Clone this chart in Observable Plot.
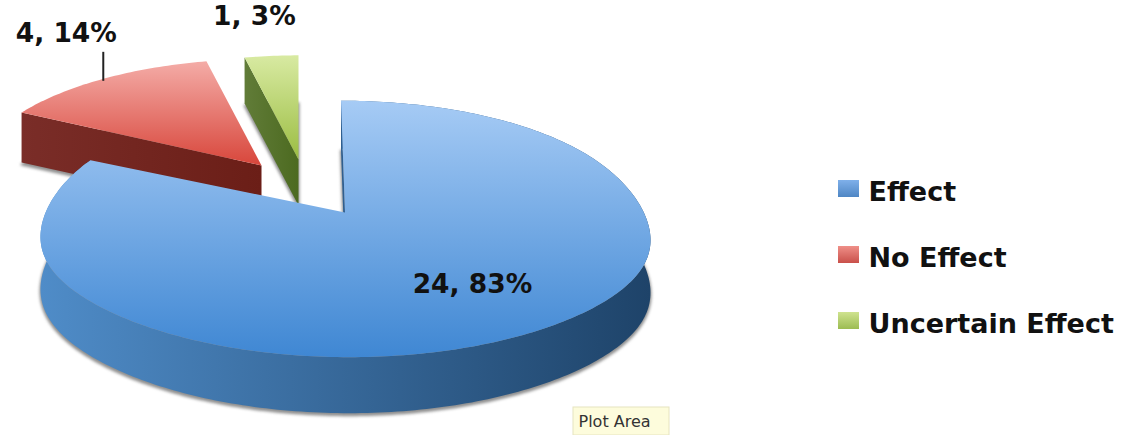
<!DOCTYPE html>
<html>
<head>
<meta charset="utf-8">
<script src="https://cdn.jsdelivr.net/npm/d3@7"></script>
<script src="https://cdn.jsdelivr.net/npm/@observablehq/plot@0.6"></script>
<style>
  html, body { margin: 0; padding: 0; background: #fff; }
</style>
</head>
<body>
<div id="chart"></div>
<script>
// Survey outcome counts and their printed shares
const categories = ["Effect", "No Effect", "Uncertain Effect"];
const counts = [24, 4, 1];
const percents = [83, 14, 3];

// Exploded-slice placement of the tilted pie
const explodeX = [344.5, 261, 298];
const explodeY = [212, 165, 159];
const sliceScale = [1, 0.95, 0.93];
const sliceLean = [4, 0, 0];
const sliceDepth = [52, 50, 46];
const sliceSag = [10, 0, 0];

// Label placement: radial fraction of each slice plus a nudge
const labelRadius = [0.7, 1, 1];
const labelDx = [7, -37, -17];
const labelDy = [-12, -45, -39];
const leaderLength = 27;

// Perspective of the pie disc
const radiusX = 302.6;
const radiusY = 126;
const tilt = -0.125;

// Fill ramps: [start, end] of each face
const topRamps = [["#a6cbf5", "#3f87d3"], ["#f4aca7", "#d8463b"], ["#d8eaa2", "#9bbd42"]];
const sideRamps = [["#4f8cc8", "#1e4369"], ["#7a2d28", "#6b1e17"], ["#617c38", "#4c6a20"]];
const swatchRamps = [["#7fb0ea", "#4f86c4"], ["#ef8f88", "#c9504a"], ["#cfe38f", "#9cbc52"]];

// Project a point of the disc, given clock angle and radius fraction
function project(i, deg, r = 1, down = 0) {
  const a = deg * Math.PI / 180;
  const u = r * Math.sin(a), v = -r * Math.cos(a);
  const den = 1 + tilt * v;
  const s = sliceScale[i];
  const drop = down ? down + (i === 0 ? 4 * v : 0) : 0;
  // The disc's widest part sits a little below its centre
  const sag = sliceSag[i] * r * r * Math.exp(-(((v - 0.1) / 0.55) ** 2));
  return {
    x: explodeX[i] + s * radiusX * u / den + sliceLean[i] * v,
    y: explodeY[i] + s * radiusY * v / den + drop + sag
  };
}

const total = d3.sum(counts);
const edges = [0, ...d3.cumsum(counts).map(c => c / total * 360)];

function arcPoints(i, down = 0) {
  const from = edges[i], to = edges[i + 1];
  const n = Math.ceil(to - from);
  return d3.range(n + 1).map(k => project(i, from + (to - from) * k / n, 1, down));
}
const apex = (i, down = 0) => project(i, 0, 0, down);

const topFace = i => [apex(i), ...arcPoints(i)];
const bottomFace = i => [apex(i, sliceDepth[i]), ...arcPoints(i, sliceDepth[i])];
// Flat cut wall running from the centre out to a given clock angle
const wall = (i, deg) => {
  const d = sliceDepth[i];
  return [apex(i), project(i, deg), project(i, deg, 1, d), apex(i, d)];
};
const rimBand = i => [...arcPoints(i), ...arcPoints(i, sliceDepth[i]).reverse()];

// Vertical gradients for top faces, horizontal ones for side walls
function gradients() {
  const svg = d3.create("svg:defs");
  const add = (id, [a, b], horizontal) => {
    const g = svg.append("linearGradient").attr("id", id)
      .attr("x1", 0).attr("y1", 0)
      .attr("x2", horizontal ? 1 : 0).attr("y2", horizontal ? 0 : 1);
    g.append("stop").attr("offset", 0).attr("stop-color", a);
    g.append("stop").attr("offset", 1).attr("stop-color", b);
  };
  categories.forEach((_, i) => {
    add(`top${i}`, topRamps[i]);
    add(`side${i}`, sideRamps[i], true);
    add(`swatch${i}`, swatchRamps[i]);
  });
  return svg.node();
}

const poly = (points, fill, extra = {}) =>
  Plot.line(points, { x: "x", y: "y", fill, stroke: "none", curve: "linear-closed", ...extra });

// Soft drop shadow: the slice's base, nudged down and blurred
const shadow = (i) =>
  poly(bottomFace(i).map(p => ({ x: p.x, y: p.y + 2 })), "#8f8f8f", {
    stroke: "#8f8f8f",
    strokeWidth: 2,
    render(index, scales, values, dimensions, context, next) {
      const g = next(index, scales, values, dimensions, context);
      g.style.filter = "blur(1.5px)";
      return g;
    }
  });

// Slice labels, placed around each slice's mid-angle
const labelRows = categories.map((c, i) => {
  const mid = (edges[i] + edges[i + 1]) / 2;
  const p = project(i, mid, labelRadius[i]);
  return { text: `${counts[i]}, ${percents[i]}%`, x: p.x + labelDx[i], y: p.y + labelDy[i] };
});
const redMid = project(1, (edges[1] + edges[2]) / 2);

// Legend rows on the right
const legendRows = categories.map((name, i) => ({
  name, x1: 838, x2: 859, y1: 180 + i * 66, y2: 197 + i * 66, tx: 868, ty: 192 + i * 66
}));

const tooltip = [{ x1: 573, x2: 669, y1: 407, y2: 435, tx: 578, ty: 421, text: "Plot Area" }];

const font = "'DejaVu Sans', sans-serif";

const chart = Plot.plot({
  width: 1121,
  height: 435,
  margin: 0,
  x: { domain: [0, 1121], range: [0, 1121], axis: null },
  y: { domain: [0, 435], range: [0, 435], axis: null },
  style: { background: "#fff" },
  marks: [
    gradients,
    // Uncertain Effect
    shadow(2),
    poly(wall(2, edges[2]), "url(#side2)"),
    poly(topFace(2), "url(#top2)"),
    // No Effect
    shadow(1),
    poly(wall(1, edges[1]), "url(#side1)"),
    poly(topFace(1), "url(#top1)"),
    Plot.link([{ x: redMid.x, y1: redMid.y + 2, y2: redMid.y - leaderLength }], {
      x1: "x", x2: "x", y1: "y1", y2: "y2", stroke: "#222", strokeWidth: 2
    }),
    // Effect
    shadow(0),
    poly(rimBand(0), "url(#side0)"),
    poly(wall(0, 0), "#2f5f90"),
    poly(topFace(0), "url(#top0)"),
    // Slice labels
    Plot.text(labelRows, {
      x: "x", y: "y", text: "text", fill: "#111", fontWeight: 700,
      fontSize: 26.5, fontFamily: font, textAnchor: "middle", lineAnchor: "middle"
    }),
    // Legend
    ...categories.map((_, i) =>
      Plot.rect([legendRows[i]], { x1: "x1", x2: "x2", y1: "y1", y2: "y2", fill: `url(#swatch${i})` })
    ),
    Plot.text(legendRows, {
      x: "tx", y: "ty", text: "name", fill: "#111", fontWeight: 700,
      fontSize: 27, fontFamily: font, textAnchor: "start", lineAnchor: "middle"
    }),
    // Hover note
    Plot.rect(tooltip, { x1: "x1", x2: "x2", y1: "y1", y2: "y2", fill: "#fdfcdc", stroke: "#e6e4c0" }),
    Plot.text(tooltip, {
      x: "tx", y: "ty", text: "text", fill: "#333", fontSize: 16, fontFamily: font,
      textAnchor: "start", lineAnchor: "middle"
    })
  ]
});

document.getElementById("chart").append(chart);
</script>
</body>
</html>
